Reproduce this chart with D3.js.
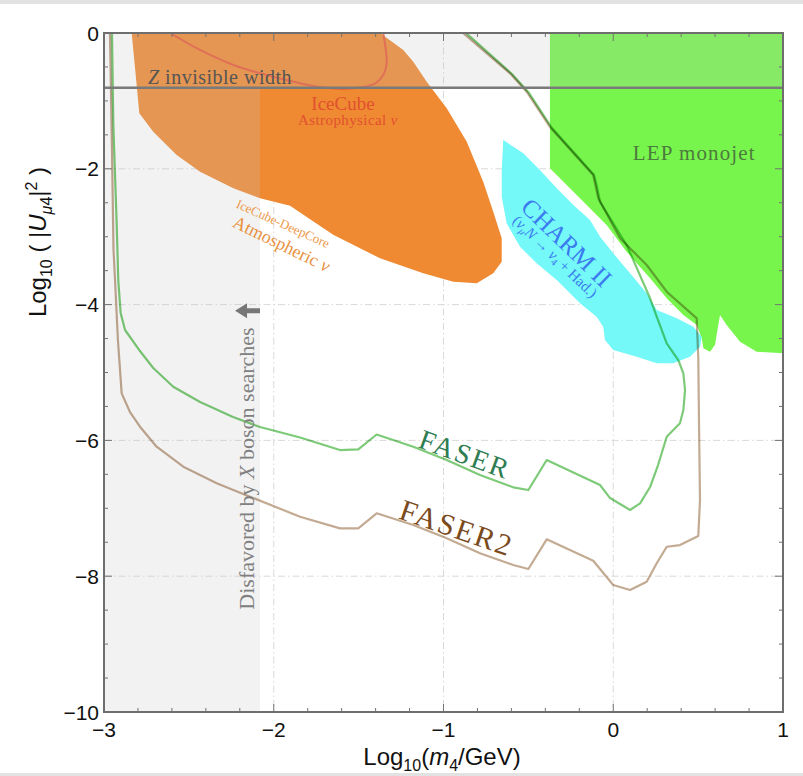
<!DOCTYPE html>
<html>
<head>
<meta charset="utf-8">
<script src="https://cdn.jsdelivr.net/npm/d3@7"></script>
<style>
  body { margin: 0; background: #fff; }
  svg { display: block; }
</style>
</head>
<body>
<div id="chart"></div>
<script>
// axes: x = log10(m4/GeV), y = log10(|U_mu4|^2)
const xTicks = [-3, -2, -1, 0, 1];
const yTicks = [0, -2, -4, -6, -8, -10];
const xGrid = [-2, -1, 0];
const yGrid = [-2, -4, -6, -8];

const zInvisible = -0.806;   // Z invisible width bound
const xBosonLimit = -2.081;  // disfavored by X boson searches (left of this)

// IceCube-DeepCore atmospheric nu (filled)
const deepCoreRegion = [
  [-2.837, 0], [-2.817, -0.520], [-2.792, -1.183], [-2.710, -1.454], [-2.572, -1.797],
  [-2.434, -2.043], [-2.238, -2.287], [-2.081, -2.435], [-1.904, -2.546], [-1.650, -2.971],
  [-1.374, -3.318], [-1.119, -3.539], [-0.942, -3.663], [-0.804, -3.686], [-0.707, -3.539],
  [-0.657, -3.368], [-0.657, -3.024], [-0.707, -2.632], [-0.766, -2.190], [-0.863, -1.601],
  [-0.981, -1.109], [-1.099, -0.717], [-1.178, -0.423], [-1.237, -0.250], [-1.374, 0]
];

// IceCube astrophysical nu (contour)
const iceCubeContour = [
  [-2.611, 0], [-2.434, -0.250], [-2.238, -0.471], [-2.042, -0.619], [-1.845, -0.740],
  [-1.720, -0.800], [-1.600, -0.820], [-1.480, -0.800], [-1.400, -0.740], [-1.355, -0.620],
  [-1.335, -0.450], [-1.340, -0.250], [-1.355, 0]
];

// CHARM II (filled)
const charmRegion = [
  [-0.648, -1.576], [-0.530, -1.772], [-0.432, -2.018], [-0.333, -2.287], [-0.235, -2.533],
  [-0.137, -2.754], [-0.078, -3.000], [0.000, -3.245], [0.099, -3.539], [0.197, -3.834],
  [0.256, -4.080], [0.374, -4.202], [0.472, -4.326], [0.521, -4.473], [0.511, -4.620],
  [0.452, -4.767], [0.354, -4.865], [0.256, -4.865], [0.138, -4.767], [0.000, -4.669],
  [-0.049, -4.521], [-0.059, -4.326], [-0.098, -4.178], [-0.196, -3.981], [-0.333, -3.638],
  [-0.451, -3.392], [-0.549, -3.147], [-0.628, -2.803], [-0.657, -2.411], [-0.657, -2.018]
];

// LEP monojet (filled)
const lepRegion = [
  [-0.373, 0], [-0.373, -1.993], [-0.196, -2.435], [-0.039, -2.828], [0.079, -3.221],
  [0.217, -3.613], [0.315, -3.907], [0.413, -4.153], [0.492, -4.301], [0.521, -4.496],
  [0.531, -4.644], [0.570, -4.694], [0.599, -4.595], [0.619, -4.301], [0.629, -4.153],
  [0.668, -4.301], [0.747, -4.546], [0.845, -4.694], [1.0, -4.717], [1.0, 0]
];

// FASER sensitivity contour
const faserCurve = [
  [-2.953, 0], [-2.945, -1.355], [-2.925, -2.828], [-2.916, -3.638], [-2.902, -4.124],
  [-2.876, -4.374], [-2.788, -4.684], [-2.710, -4.934], [-2.592, -5.209], [-2.434, -5.435],
  [-2.240, -5.656], [-2.081, -5.803], [-1.845, -5.958], [-1.610, -6.142], [-1.502, -6.131],
  [-1.394, -5.913], [-1.178, -6.093], [-0.981, -6.289], [-0.785, -6.510], [-0.589, -6.691],
  [-0.500, -6.731], [-0.392, -6.289], [-0.078, -6.657], [-0.019, -6.849], [0.099, -7.025],
  [0.158, -6.927], [0.217, -6.687], [0.264, -6.363], [0.315, -5.946], [0.393, -5.748],
  [0.413, -5.553], [0.423, -5.258], [0.413, -5.012], [0.383, -4.816], [0.315, -4.570],
  [0.256, -4.178], [0.217, -3.907], [0.079, -3.122], [-0.078, -2.485], [-0.098, -2.239],
  [-0.113, -2.091], [-0.361, -1.399], [-0.496, -0.884], [-0.597, -0.604], [-0.867, 0]
];

// FASER2 sensitivity contour
const faser2Curve = [
  [-2.965, 0], [-2.953, -1.723], [-2.944, -3.196], [-2.935, -3.638], [-2.918, -4.521],
  [-2.896, -5.307], [-2.847, -5.582], [-2.788, -5.798], [-2.690, -6.093], [-2.533, -6.388],
  [-2.336, -6.632], [-2.140, -6.829], [-1.944, -7.025], [-1.845, -7.124], [-1.610, -7.295],
  [-1.502, -7.295], [-1.394, -7.074], [-1.178, -7.246], [-0.981, -7.442], [-0.785, -7.663],
  [-0.589, -7.835], [-0.500, -7.894], [-0.392, -7.457], [-0.118, -7.772], [0.000, -8.130],
  [0.099, -8.203], [0.197, -8.081], [0.256, -7.810], [0.315, -7.566], [0.393, -7.541],
  [0.501, -7.408], [0.511, -6.878], [0.505, -5.700], [0.501, -4.791], [0.493, -4.301],
  [0.492, -4.202], [0.315, -3.810], [0.197, -3.417], [0.040, -3.024], [-0.088, -2.435],
  [-0.118, -2.091], [-0.373, -1.384], [-0.510, -0.865], [-0.608, -0.594], [-0.885, 0]
];

const W = 803, H = 776;
const margin = { top: 33, right: 20, bottom: 64, left: 104 };

const svg = d3.select("#chart").append("svg")
  .attr("width", W)
  .attr("height", H);

svg.append("rect").attr("width", W).attr("height", H).attr("fill", "#fff");
// thin page borders of the screenshot
svg.append("rect").attr("x", 0).attr("y", 0).attr("width", W).attr("height", 4).attr("fill", "#e2e2e2");
svg.append("rect").attr("x", 0).attr("y", H - 3).attr("width", W).attr("height", 3).attr("fill", "#e2e2e2");

const x = d3.scaleLinear().domain([-3, 1]).range([margin.left, W - margin.right]);
const y = d3.scaleLinear().domain([-10, 0]).range([H - margin.bottom, margin.top]);

svg.append("clipPath").attr("id", "plot-clip")
  .append("rect")
  .attr("x", x(-3)).attr("y", y(0))
  .attr("width", x(1) - x(-3)).attr("height", y(-10) - y(0));

const plot = svg.append("g").attr("clip-path", "url(#plot-clip)");

// grid (dash-dot)
plot.append("g")
  .selectAll("line.gx")
  .data(xGrid)
  .join("line")
  .attr("x1", d => x(d)).attr("x2", d => x(d))
  .attr("y1", y(0)).attr("y2", y(-10))
  .attr("stroke", "#d9d9d9").attr("stroke-width", 1)
  .attr("stroke-dasharray", "7,3,1.5,3");

plot.append("g")
  .selectAll("line.gy")
  .data(yGrid)
  .join("line")
  .attr("x1", x(-3)).attr("x2", x(1))
  .attr("y1", d => y(d)).attr("y2", d => y(d))
  .attr("stroke", "#d9d9d9").attr("stroke-width", 1)
  .attr("stroke-dasharray", "7,3,1.5,3");

const area = d3.line().x(d => x(d[0])).y(d => y(d[1]));

plot.append("path")
  .attr("d", area(deepCoreRegion) + "Z")
  .attr("fill", "#ef8a32");

plot.append("path")
  .attr("d", d3.line().curve(d3.curveCatmullRom).x(d => x(d[0])).y(d => y(d[1]))(iceCubeContour))
  .attr("fill", "none")
  .attr("stroke", "#e5533a")
  .attr("stroke-opacity", 0.9)
  .attr("stroke-width", 2);

plot.append("path")
  .attr("d", area(lepRegion) + "Z")
  .attr("fill", "#77f54c");

plot.append("path")
  .attr("d", area(charmRegion) + "Z")
  .attr("fill", "#74f8f8");

// disfavoured bands: X boson searches + Z invisible width
const shade = d3.path();
shade.moveTo(x(-3), y(0));
shade.lineTo(x(1), y(0));
shade.lineTo(x(1), y(zInvisible));
shade.lineTo(x(xBosonLimit), y(zInvisible));
shade.lineTo(x(xBosonLimit), y(-10));
shade.lineTo(x(-3), y(-10));
shade.closePath();
plot.append("path")
  .attr("d", shade.toString())
  .attr("fill", "#c6c6c6")
  .attr("fill-opacity", 0.22);

// FASER / FASER2 sensitivity curves
const curve = d3.line().x(d => x(d[0])).y(d => y(d[1]));

plot.append("path")
  .attr("d", curve(faser2Curve))
  .attr("fill", "none")
  .attr("stroke", "#c3aa92")
  .attr("stroke-width", 2.2)
  .attr("stroke-linejoin", "round")
  .style("mix-blend-mode", "multiply");

plot.append("path")
  .attr("d", curve(faserCurve))
  .attr("fill", "none")
  .attr("stroke", "#7dcb78")
  .attr("stroke-width", 2.2)
  .attr("stroke-linejoin", "round")
  .style("mix-blend-mode", "multiply");

// Z invisible width line
plot.append("line")
  .attr("x1", x(-3)).attr("x2", x(1))
  .attr("y1", y(zInvisible)).attr("y2", y(zInvisible))
  .attr("stroke", "#7a7a7a")
  .attr("stroke-width", 2.4);

// ---- labels inside the plot ----
const serif = "'Liberation Serif', 'Times New Roman', serif";

function label(vx, vy, angle, size, color, anchor) {
  return svg.append("text")
    .attr("transform", `translate(${x(vx)},${y(vy)}) rotate(${angle})`)
    .attr("text-anchor", anchor || "middle")
    .style("font-family", serif)
    .style("font-size", size + "px")
    .attr("fill", color);
}

const zl = label(-2.741, -0.758, 0, 20, "#555", "start").style("letter-spacing", "0.5px");
zl.append("tspan").style("font-style", "italic").text("Z");
zl.append("tspan").text(" invisible width");

label(-1.592, -1.134, 0, 19, "#e2502f").text("IceCube");
const ap = label(-1.563, -1.355, 0, 15, "#e2502f").style("letter-spacing", "0.4px");
ap.append("tspan").text("Astrophysical ");
ap.append("tspan").style("font-style", "italic").text("ν");

label(0.477, -1.87, 0, 21, "#4d7a3e").style("letter-spacing", "1.1px").text("LEP monojet");

label(-1.946, -2.806, 24, 13, "#ec9a4c").attr("dominant-baseline", "central").text("IceCube-DeepCore");
const at = label(-1.954, -3.108, 26, 18, "#e8913f").attr("dominant-baseline", "central");
at.append("tspan").text("Atmospheric ");
at.append("tspan").style("font-style", "italic").text("ν");

label(-0.274, -3.086, 44, 25, "#3b7bef").attr("dominant-baseline", "central").text("CHARM II");
const ch = label(-0.343, -3.294, 44, 15, "#3b7bef").attr("dominant-baseline", "central");
ch.append("tspan").text("(");
ch.append("tspan").style("font-style", "italic").text("ν");
ch.append("tspan").attr("font-size", "10px").attr("dy", 4).style("font-style", "italic").text("μ");
ch.append("tspan").attr("dy", -4).style("font-style", "italic").text("N");
ch.append("tspan").text(" → ");
ch.append("tspan").style("font-style", "italic").text("ν");
ch.append("tspan").attr("font-size", "10px").attr("dy", 4).text("4");
ch.append("tspan").attr("dy", -4).text(" + Had.)");

label(-0.893, -6.337, 20, 28, "#2f7d52").style("letter-spacing", "2px").text("FASER");
label(-0.942, -7.43, 19, 30, "#7b4a1c").style("letter-spacing", "2px").text("FASER2");

const dl = label(-2.116, -6.414, -90, 22, "#808080");
dl.append("tspan").text("Disfavored by ");
dl.append("tspan").style("font-style", "italic").text("X");
dl.append("tspan").text(" boson searches");

// arrow pointing to the disfavoured side
const ay = y(-4.091), ax0 = x(-2.081), ax1 = x(-2.228);
svg.append("path")
  .attr("d", `M${ax1},${ay} L${ax1 + 12},${ay - 7.5} L${ax1 + 12},${ay - 2.5} L${ax0},${ay - 2.5} L${ax0},${ay + 2.5} L${ax1 + 12},${ay + 2.5} L${ax1 + 12},${ay + 7.5} Z`)
  .attr("fill", "#777");

// ---- frame, ticks, axes ----
const tickColor = "#737373";
const xMinor = d3.range(-3, 1.0001, 0.2);
const yMinor = d3.range(-10, 0.0001, 0.5);

const ticks = svg.append("g").attr("stroke", tickColor).attr("stroke-width", 1);
xMinor.forEach(v => {
  const major = Math.abs(v - Math.round(v)) < 1e-6;
  const len = major ? 8 : 4;
  ticks.append("line").attr("x1", x(v)).attr("x2", x(v)).attr("y1", y(-10)).attr("y2", y(-10) - len);
  ticks.append("line").attr("x1", x(v)).attr("x2", x(v)).attr("y1", y(0)).attr("y2", y(0) + len);
});
yMinor.forEach(v => {
  const major = Math.abs(v / 2 - Math.round(v / 2)) < 1e-6;
  const len = major ? 8 : 4;
  ticks.append("line").attr("x1", x(-3)).attr("x2", x(-3) + len).attr("y1", y(v)).attr("y2", y(v));
  ticks.append("line").attr("x1", x(1)).attr("x2", x(1) - len).attr("y1", y(v)).attr("y2", y(v));
});

svg.append("rect")
  .attr("x", x(-3)).attr("y", y(0))
  .attr("width", x(1) - x(-3)).attr("height", y(-10) - y(0))
  .attr("fill", "none")
  .attr("stroke", "#6e6e6e")
  .attr("stroke-width", 2);

const sans = "'Liberation Sans', Arial, Helvetica, sans-serif";
const fmt = v => (v < 0 ? "\u2212" + Math.abs(v) : String(v));

svg.append("g")
  .selectAll("text")
  .data(xTicks)
  .join("text")
  .attr("x", d => x(d))
  .attr("y", y(-10) + 25)
  .attr("text-anchor", "middle")
  .style("font-family", sans)
  .style("font-size", "21px")
  .attr("fill", "#111")
  .text(fmt);

svg.append("g")
  .selectAll("text")
  .data(yTicks)
  .join("text")
  .attr("x", x(-3) - 5)
  .attr("y", d => y(d))
  .attr("dy", "0.36em")
  .attr("text-anchor", "end")
  .style("font-family", sans)
  .style("font-size", "21px")
  .attr("fill", "#111")
  .text(fmt);

// x axis title
const xt = svg.append("text")
  .attr("x", 442)
  .attr("y", 765)
  .attr("text-anchor", "middle")
  .style("font-family", sans)
  .style("font-size", "24px")
  .attr("fill", "#111");
xt.append("tspan").text("Log");
xt.append("tspan").attr("font-size", "16px").attr("dy", 6).text("10");
xt.append("tspan").attr("dy", -6).text("(");
xt.append("tspan").style("font-style", "italic").text("m");
xt.append("tspan").attr("font-size", "16px").attr("dy", 6).text("4");
xt.append("tspan").attr("dy", -6).text("/GeV)");

// y axis title
const yt = svg.append("text")
  .attr("transform", `translate(46,242) rotate(-90)`)
  .attr("text-anchor", "middle")
  .style("font-family", sans)
  .style("font-size", "24px")
  .attr("fill", "#111");
yt.append("tspan").text("Log");
yt.append("tspan").attr("font-size", "16px").attr("dy", 6).text("10");
yt.append("tspan").attr("dy", -6).text(" (  |");
yt.append("tspan").style("font-style", "italic").text("U");
yt.append("tspan").attr("font-size", "16px").attr("dy", 6).style("font-style", "italic").text("μ");
yt.append("tspan").attr("font-size", "16px").text("4");
yt.append("tspan").attr("dy", -6).text("|");
yt.append("tspan").attr("font-size", "16px").attr("dy", -9).text("2");
yt.append("tspan").attr("dy", 9).text("  )");
</script>
</body>
</html>
